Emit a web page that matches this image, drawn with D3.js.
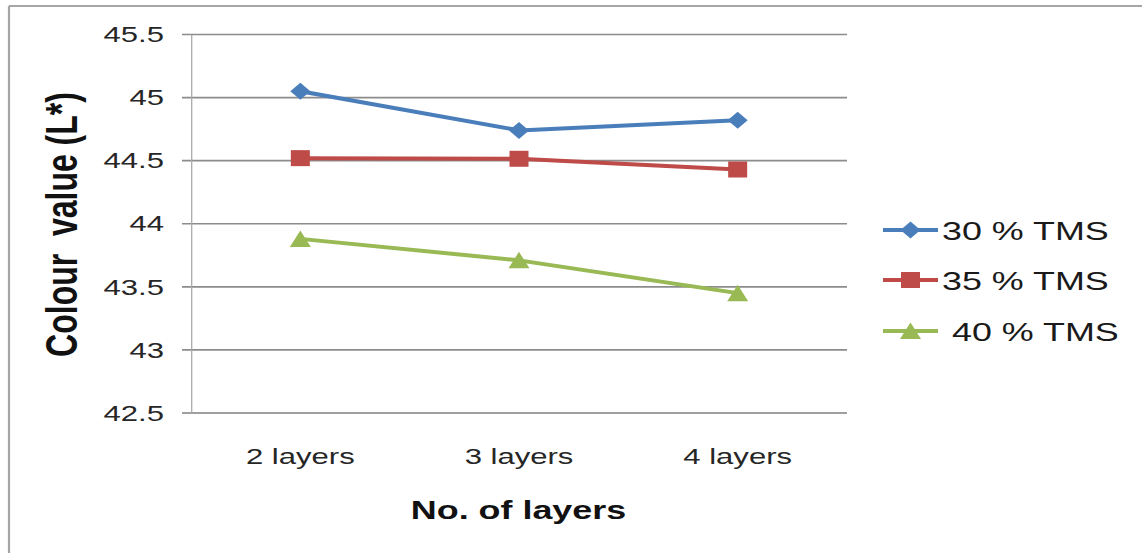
<!DOCTYPE html>
<html>
<head>
<meta charset="utf-8">
<script src="https://cdn.jsdelivr.net/npm/d3@7"></script>
<style>
  html, body { margin: 0; padding: 0; background: #fff; }
  svg { display: block; }
  text { font-family: "Liberation Sans", Arial, sans-serif; }
</style>
</head>
<body>
<svg id="chart"></svg>
<script>
// ---- data ----
const categories = ["2 layers", "3 layers", "4 layers"];
const seriesNames = ["30 % TMS", "35 % TMS", " 40 % TMS"];
const tms30 = [45.05, 44.74, 44.82];
const tms35 = [44.52, 44.515, 44.43];
const tms40 = [43.88, 43.71, 43.45];
const yTicks = [42.5, 43, 43.5, 44, 44.5, 45, 45.5];
const yTickLabels = ["42.5", "43", "43.5", "44", "44.5", "45", "45.5"];

// ---- page geometry (the drawing is laid out on a horizontally stretched canvas) ----
const W = 1142, H = 553;
const sx = 1.38;              // horizontal stretch of the whole drawing
const vx = px => px / sx;     // screen px -> canvas x units
const VW = W / sx;

const plot = { left: 191, right: 847, top: 34.5, bottom: 413 };

const svg = d3.select("#chart")
  .attr("width", W).attr("height", H)
  .attr("viewBox", `0 0 ${VW} ${H}`)
  .attr("preserveAspectRatio", "none");

// frame lines
svg.append("line")
  .attr("x1", vx(9)).attr("x2", VW).attr("y1", 6).attr("y2", 6)
  .attr("stroke", "#a6a6a6").attr("stroke-width", 2.2);
svg.append("line")
  .attr("x1", vx(9)).attr("x2", vx(9)).attr("y1", 6).attr("y2", H)
  .attr("stroke", "#a6a6a6").attr("stroke-width", 2.2 / sx);

// ---- scales ----
const x = d3.scaleBand().domain(categories).range([vx(plot.left), vx(plot.right)]).padding(0);
const cx = c => x(c) + x.bandwidth() / 2;
const y = d3.scaleLinear().domain([42.5, 45.5]).range([plot.bottom, plot.top]);

// ---- horizontal gridlines ----
svg.append("g")
  .selectAll("line")
  .data(yTicks)
  .join("line")
  .attr("x1", vx(plot.left - 9)).attr("x2", vx(plot.right))
  .attr("y1", d => y(d)).attr("y2", d => y(d))
  .attr("stroke", d => d === 42.5 ? "#7f7f7f" : "#8c8c8c")
  .attr("stroke-width", 1.6);

// ---- y axis ----
const yAxis = d3.axisLeft(y)
  .tickValues(yTicks)
  .tickFormat((d, i) => yTickLabels[i])
  .tickSizeInner(vx(9))
  .tickSizeOuter(0)
  .tickPadding(vx(18));
const gy = svg.append("g").attr("transform", `translate(${vx(plot.left)},0)`).call(yAxis);
gy.select(".domain").attr("stroke", "#ababab").attr("stroke-width", 1.3 / sx);
gy.selectAll(".tick line").attr("stroke", "none");
gy.selectAll(".tick text")
  .attr("font-size", 22.5)
  .attr("fill", "#262626")
  .attr("font-family", "Liberation Sans, Arial, sans-serif");

// ---- x axis labels ----
const xAxis = d3.axisBottom(x).tickSize(0).tickPadding(0);
const gx = svg.append("g").attr("transform", `translate(0,${plot.bottom})`).call(xAxis);
gx.select(".domain").remove();
gx.selectAll(".tick text")
  .attr("y", 51).attr("dy", 0)
  .attr("font-size", 22.5)
  .attr("fill", "#262626")
  .attr("font-family", "Liberation Sans, Arial, sans-serif");

// ---- axis titles ----
svg.append("text")
  .attr("x", vx(518.5)).attr("y", 519)
  .attr("text-anchor", "middle")
  .attr("font-size", 26).attr("font-weight", "bold").attr("fill", "#111")
  .text("No. of layers");

svg.append("text")
  .attr("transform", `translate(${vx(77)},224.5) rotate(-90)`)
  .attr("text-anchor", "middle")
  .attr("font-size", 32).attr("font-weight", "bold").attr("fill", "#111")
  .style("white-space", "pre")
  .text("Colour  value (L*)");

// ---- marker shapes (half sizes given in screen px) ----
const polygonSymbol = pts => ({
  draw(ctx) {
    pts.forEach(([px, py], i) => i ? ctx.lineTo(vx(px), py) : ctx.moveTo(vx(px), py));
    ctx.closePath();
  }
});
const diamond = polygonSymbol([[0, -8.5], [10, 0], [0, 8.5], [-10, 0]]);
const square = polygonSymbol([[-9.5, -8], [9.5, -8], [9.5, 8], [-9.5, 8]]);
const triangle = polygonSymbol([[0, -8.5], [10.5, 8], [-10.5, 8]]);

const series = [
  { name: seriesNames[0], values: tms30, color: "#4a7ebb", shape: diamond },
  { name: seriesNames[1], values: tms35, color: "#be4b48", shape: square },
  { name: seriesNames[2], values: tms40, color: "#98b954", shape: triangle }
];

const line = d3.line()
  .x((d, i) => cx(categories[i]))
  .y(d => y(d));

const gs = svg.append("g").selectAll("g").data(series).join("g");
gs.append("path")
  .attr("d", s => line(s.values))
  .attr("fill", "none")
  .attr("stroke", s => s.color)
  .attr("stroke-width", 4)
  .attr("stroke-linejoin", "round");
gs.each(function (s) {
  d3.select(this).selectAll("path.mark")
    .data(s.values)
    .join("path")
    .attr("class", "mark")
    .attr("transform", (d, i) => `translate(${cx(categories[i])},${y(d)})`)
    .attr("d", d3.symbol().type(s.shape))
    .attr("fill", s.color);
});

// ---- legend ----
const legendY = [230, 280, 331];
const lg = svg.append("g").selectAll("g").data(series).join("g")
  .attr("transform", (s, i) => `translate(0,${legendY[i]})`);
lg.append("line")
  .attr("x1", vx(883)).attr("x2", vx(938))
  .attr("y1", 0).attr("y2", 0)
  .attr("stroke", s => s.color).attr("stroke-width", 4);
lg.append("path")
  .attr("transform", `translate(${vx(910.5)},0)`)
  .attr("d", s => d3.symbol().type(s.shape)())
  .attr("fill", s => s.color);
lg.append("text")
  .attr("x", vx(942)).attr("y", 10)
  .attr("font-size", 26).attr("fill", "#1a1a1a")
  .style("white-space", "pre")
  .text(s => s.name);
</script>
</body>
</html>
